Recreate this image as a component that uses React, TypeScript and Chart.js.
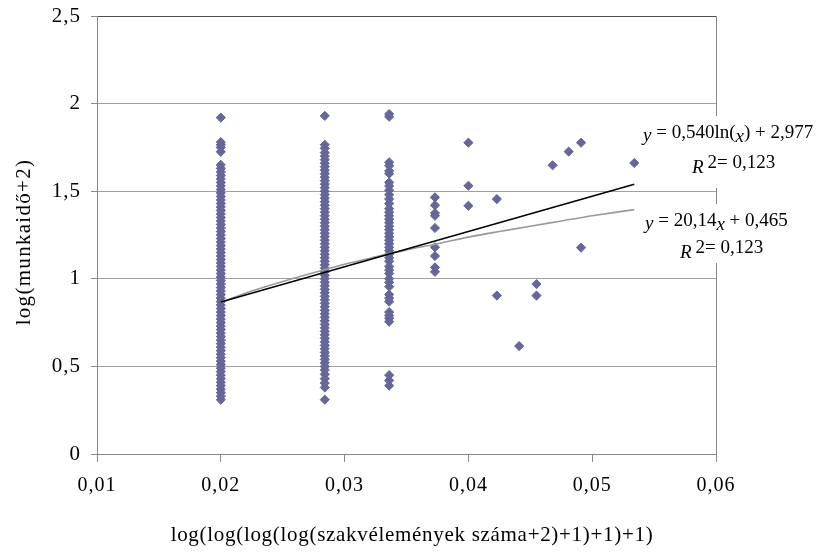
import React, { useEffect, useRef } from "react";
import { Chart, registerables } from "chart.js";

Chart.register(...registerables);

// ---- data ----
const col1X = 0.02;
const col1Y = [1.92, 1.78, 1.765, 1.75, 1.725, 1.65, 1.63, 1.61, 1.59, 1.57, 1.55, 1.53, 1.51, 1.49, 1.47, 1.45, 1.43, 1.41, 1.39, 1.37, 1.35, 1.33, 1.31, 1.29, 1.27, 1.25, 1.23, 1.21, 1.19, 1.17, 1.15, 1.13, 1.11, 1.09, 1.07, 1.05, 1.03, 1.01, 0.99, 0.97, 0.95, 0.93, 0.91, 0.89, 0.87, 0.85, 0.83, 0.81, 0.79, 0.77, 0.75, 0.73, 0.71, 0.69, 0.67, 0.65, 0.63, 0.61, 0.59, 0.57, 0.55, 0.53, 0.51, 0.49, 0.47, 0.45, 0.43, 0.41, 0.39, 0.37, 0.35, 0.33, 0.31];

const col2X = 0.0284;
const col2Y = [1.93, 1.765, 1.745, 1.72, 1.70, 1.68, 1.66, 1.64, 1.62, 1.60, 1.58, 1.56, 1.54, 1.52, 1.50, 1.48, 1.46, 1.44, 1.42, 1.40, 1.38, 1.36, 1.34, 1.32, 1.30, 1.28, 1.26, 1.24, 1.22, 1.20, 1.18, 1.16, 1.14, 1.12, 1.10, 1.08, 1.06, 1.04, 1.02, 1.00, 0.98, 0.96, 0.94, 0.92, 0.90, 0.88, 0.86, 0.84, 0.82, 0.80, 0.78, 0.76, 0.74, 0.72, 0.70, 0.68, 0.66, 0.64, 0.62, 0.60, 0.58, 0.56, 0.54, 0.52, 0.50, 0.48, 0.455, 0.43, 0.405, 0.38, 0.31];

const col3X = 0.0336;
const col3Y = [1.94, 1.925, 1.665, 1.645, 1.615, 1.60, 1.55, 1.53, 1.505, 1.48, 1.455, 1.43, 1.40, 1.38, 1.36, 1.34, 1.32, 1.30, 1.28, 1.26, 1.24, 1.22, 1.20, 1.18, 1.16, 1.14, 1.12, 1.10, 1.07, 1.05, 1.03, 1.00, 0.98, 0.955, 0.91, 0.89, 0.87, 0.81, 0.79, 0.775, 0.755, 0.45, 0.42, 0.39];

const col4X = 0.0373;
const col4Y = [1.465, 1.42, 1.375, 1.36, 1.29, 1.18, 1.13, 1.065, 1.04];

const otherX = [0.04, 0.04, 0.04, 0.0423, 0.0423, 0.0441, 0.0455, 0.0455, 0.0468, 0.0481, 0.0491, 0.0491, 0.0534];
const otherY = [1.777, 1.531, 1.417, 1.455, 0.904, 0.616, 0.97, 0.904, 1.648, 1.726, 1.777, 1.178, 1.661];

const linTrendX = [0.02, 0.0534];
const linTrendY = [0.868, 1.54];

const logTrendX = [0.02, 0.0225, 0.025, 0.0275, 0.03, 0.0325, 0.035, 0.0375, 0.04, 0.0425, 0.045, 0.0475, 0.05, 0.0534];
const logTrendY = [0.865, 0.93, 0.985, 1.035, 1.083, 1.125, 1.165, 1.2, 1.238, 1.27, 1.3, 1.33, 1.36, 1.395];

const xTicks = [0.01, 0.02, 0.03, 0.04, 0.05, 0.06];
const yTicks = [0, 0.5, 1, 1.5, 2, 2.5];

const xTitle = "log(log(log(log(szakvélemények száma+2)+1)+1)+1)";
const yTitle = "log(munkaidő+2)";

const FONT = "'Liberation Serif', 'Times New Roman', serif";

type Seg = { t: string; it?: boolean; dy?: number; gap?: number };

function drawSegs(ctx: CanvasRenderingContext2D, segs: Seg[], x: number, y: number, size: number) {
  let cx = x;
  for (const s of segs) {
    cx += s.gap || 0;
    ctx.font = `${s.it ? "italic " : ""}${size}px ${FONT}`;
    ctx.fillText(s.t, cx, y + (s.dy || 0));
    cx += ctx.measureText(s.t).width;
  }
}

const textPlugin = {
  id: "customTexts",
  beforeDraw(chart: any) {
    (chart.ctx as any).letterSpacing = "1px";
  },
  beforeDatasetsDraw(chart: any) {
    const { ctx, chartArea } = chart;
    ctx.save();
    ctx.strokeStyle = "#888888";
    ctx.lineWidth = 1;
    ctx.beginPath();
    ctx.moveTo(Math.round(chartArea.right) + 0.5, chartArea.top);
    ctx.lineTo(Math.round(chartArea.right) + 0.5, chartArea.bottom);
    ctx.stroke();
    ctx.restore();
  },
  afterDraw(chart: any) {
    const { ctx } = chart;
    ctx.save();
    // axis titles
    ctx.fillStyle = "#000";
    ctx.textBaseline = "middle";
    ctx.textAlign = "center";
    ctx.font = `21px ${FONT}`;
    (ctx as any).letterSpacing = "0.7px";
    ctx.fillText(xTitle, 412, 535);
    ctx.save();
    ctx.translate(24, 242);
    ctx.rotate(-Math.PI / 2);
    ctx.font = `21px ${FONT}`;
    (ctx as any).letterSpacing = "1.3px";
    ctx.fillText(yTitle, 0, 0);
    ctx.restore();
    (ctx as any).letterSpacing = "0px";

    // equation labels with white backgrounds
    ctx.fillStyle = "#ffffff";
    ctx.fillRect(640, 116, 180, 72);
    ctx.fillRect(641, 204, 170, 59);
    ctx.fillStyle = "#000";
    ctx.textAlign = "left";
    ctx.textBaseline = "alphabetic";
    const fs = 19;
    drawSegs(ctx, [
      { t: "y", it: true, dy: 3 },
      { t: " = 0,540ln(" },
      { t: "x", it: true, dy: 4 },
      { t: ") + 2,977" },
    ], 643, 138, fs);
    drawSegs(ctx, [
      { t: "R", it: true, dy: 5 },
      { t: "2= 0,123", gap: 4 },
    ], 692, 168, fs);
    drawSegs(ctx, [
      { t: "y", it: true, dy: 2.5 },
      { t: " = 20,14" },
      { t: "x", it: true, dy: 4 },
      { t: " + 0,465" },
    ], 645, 226, fs);
    drawSegs(ctx, [
      { t: "R", it: true, dy: 5 },
      { t: "2= 0,123", gap: 4 },
    ], 680, 253, fs);
    ctx.restore();
  },
};

function buildPoints() {
  const pts: { x: number; y: number }[] = [];
  col1Y.forEach((y) => pts.push({ x: col1X, y }));
  col2Y.forEach((y) => pts.push({ x: col2X, y }));
  col3Y.forEach((y) => pts.push({ x: col3X, y }));
  col4Y.forEach((y) => pts.push({ x: col4X, y }));
  otherX.forEach((x, i) => pts.push({ x, y: otherY[i] }));
  return pts;
}

export default function App() {
  const ref = useRef<HTMLCanvasElement | null>(null);
  useEffect(() => {
    if (!ref.current) return;
    const fmt = (v: any) => String(Math.round(Number(v) * 100) / 100).replace(".", ",");
    const chart = new Chart(ref.current, {
      type: "scatter",
      data: {
        datasets: [
          {
            type: "line",
            data: linTrendX.map((x, i) => ({ x, y: linTrendY[i] })),
            borderColor: "#000000",
            borderWidth: 1.6,
            pointRadius: 0,
            showLine: true,
            fill: false,
            order: 0,
          } as any,
          {
            type: "line",
            data: logTrendX.map((x, i) => ({ x, y: logTrendY[i] })),
            borderColor: "#9a9a9a",
            borderWidth: 1.6,
            pointRadius: 0,
            showLine: true,
            tension: 0.3,
            fill: false,
            order: 1,
          } as any,
          {
            data: buildPoints(),
            pointStyle: "rectRot",
            pointRadius: 4.6,
            pointBackgroundColor: "#666699",
            pointBorderColor: "#666699",
            pointBorderWidth: 1,
            order: 2,
          } as any,
        ],
      },
      options: {
        animation: false,
        responsive: false,
        devicePixelRatio: 1,
        layout: { padding: { top: 16, right: 104, left: 0, bottom: 0 } },
        plugins: { legend: { display: false }, tooltip: { enabled: false } },
        scales: {
          x: {
            type: "linear",
            min: 0.01,
            max: 0.06,
            afterFit: (s: any) => { s.height = 99; s.paddingLeft = 0; s.paddingRight = 0; },
            afterBuildTicks: (s: any) => { s.ticks = xTicks.map((v) => ({ value: v })); },
            ticks: {
              callback: fmt,
              font: { family: FONT, size: 20 },
              color: "#000",
              padding: 12,
              maxRotation: 0,
            },
            grid: { drawOnChartArea: false, tickLength: 8, color: "#888888", tickColor: "#888888" },
            border: { color: "#888888", width: 1 },
          },
          y: {
            type: "linear",
            min: 0,
            max: 2.5,
            afterFit: (s: any) => { s.width = 97; s.paddingTop = 0; s.paddingBottom = 0; },
            afterBuildTicks: (s: any) => { s.ticks = yTicks.map((v) => ({ value: v })); },
            ticks: {
              callback: fmt,
              font: { family: FONT, size: 21 },
              color: "#000",
              padding: 10,
            },
            grid: {
              tickLength: 6,
              color: (c: any) => (c.tick && c.tick.value === 2.5 ? "#505050" : "#a0a0a0"),
              tickColor: "#888888",
            },
            border: { color: "#888888", width: 1 },
          },
        },
      },
      plugins: [textPlugin],
    });
    return () => chart.destroy();
  }, []);
  return (
    <div style={{ position: "fixed", left: 0, top: 0, width: 820, height: 553, background: "#fff" }}>
      <canvas ref={ref} width={820} height={553} style={{ display: "block" }} />
    </div>
  );
}
